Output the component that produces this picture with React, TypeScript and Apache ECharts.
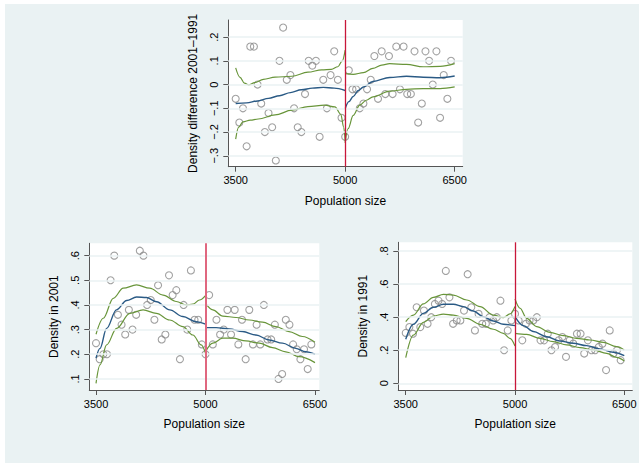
import React, { useEffect, useRef } from "react";
import * as echarts from "echarts";

// Population size (x) for every observation
const pop = [
  3500, 3550, 3600, 3650, 3700, 3750, 3800, 3850, 3900, 3950,
  4000, 4050, 4100, 4150, 4200, 4250, 4300, 4350, 4400, 4450,
  4500, 4550, 4600, 4650, 4700, 4750, 4800, 4850, 4900, 4950,
  5000, 5050, 5100, 5150, 5200, 5250, 5300, 5350, 5400, 5450,
  5500, 5550, 5600, 5650, 5700, 5750, 5800, 5850, 5900, 5950,
  6000, 6050, 6100, 6150, 6200, 6250, 6300, 6350, 6400, 6450,
];

// Density difference 2001–1991
const diffVals = [
  -0.06, -0.16, -0.10, -0.26, 0.16, 0.16, 0.00, -0.08, -0.20, -0.12,
  -0.18, -0.32, 0.10, 0.24, 0.02, 0.04, -0.10, -0.18, -0.20, -0.04,
  0.10, 0.08, 0.10, -0.22, 0.02, -0.10, 0.04, 0.14, 0.02, -0.14,
  -0.22, 0.06, -0.02, -0.02, -0.10, -0.08, -0.02, 0.02, 0.12, -0.06,
  0.14, -0.04, 0.12, -0.04, 0.16, -0.02, 0.16, -0.04, -0.04, 0.14,
  -0.16, -0.08, 0.14, 0.10, 0.00, 0.14, -0.14, 0.04, -0.06, 0.10,
];

// Density in 2001
const d2001 = [
  0.245, 0.18, 0.20, 0.20, 0.50, 0.60, 0.36, 0.32, 0.28, 0.38,
  0.30, 0.36, 0.62, 0.60, 0.40, 0.42, 0.34, 0.48, 0.26, 0.28,
  0.52, 0.44, 0.46, 0.18, 0.40, 0.30, 0.54, 0.34, 0.34, 0.24,
  0.20, 0.44, 0.24, 0.34, 0.28, 0.30, 0.38, 0.28, 0.38, 0.24,
  0.34, 0.18, 0.38, 0.24, 0.32, 0.24, 0.40, 0.26, 0.26, 0.32,
  0.10, 0.12, 0.34, 0.32, 0.24, 0.22, 0.18, 0.22, 0.14, 0.24,
];

// Density in 1991
const d1991 = [
  0.305, 0.34, 0.30, 0.46, 0.34, 0.44, 0.36, 0.40, 0.48, 0.50,
  0.48, 0.68, 0.52, 0.36, 0.38, 0.38, 0.44, 0.66, 0.46, 0.32,
  0.42, 0.36, 0.36, 0.40, 0.38, 0.40, 0.50, 0.20, 0.32, 0.38,
  0.42, 0.38, 0.26, 0.36, 0.38, 0.38, 0.40, 0.26, 0.26, 0.30,
  0.20, 0.22, 0.26, 0.28, 0.16, 0.26, 0.24, 0.30, 0.30, 0.18,
  0.26, 0.20, 0.20, 0.22, 0.24, 0.08, 0.32, 0.18, 0.20, 0.14,
];

// Fitted lines and confidence bands: [population, value]
const diffFitL = [[3500,-0.080],[3650,-0.077],[3800,-0.069],[3950,-0.058],[4100,-0.047],[4250,-0.034],[4400,-0.022],[4550,-0.015],[4700,-0.012],[4850,-0.015],[5000,-0.025]];
const diffUpL = [[3500,0.070],[3560,0.030],[3620,0.006],[3680,-0.002],[3760,0.008],[3880,0.022],[4040,0.031],[4270,0.035],[4490,0.052],[4680,0.062],[4810,0.064],[4900,0.075],[4960,0.100],[5000,0.145]];
const diffLoL = [[3500,-0.230],[3540,-0.180],[3600,-0.157],[3700,-0.150],[3810,-0.145],[4040,-0.128],[4270,-0.108],[4490,-0.093],[4720,-0.087],[4860,-0.094],[4940,-0.125],[4980,-0.180],[5000,-0.240]];
const diffFitR = [[5000,-0.102],[5050,-0.072],[5110,-0.050],[5180,-0.025],[5250,-0.010],[5380,0.013],[5610,0.030],[5840,0.035],[6070,0.031],[6300,0.029],[6500,0.036]];
const diffUpR = [[5000,0.046],[5110,0.043],[5250,0.050],[5380,0.068],[5500,0.082],[5610,0.088],[5840,0.085],[6070,0.075],[6300,0.077],[6500,0.088]];
const diffLoR = [[5000,-0.246],[5040,-0.186],[5110,-0.130],[5200,-0.087],[5290,-0.066],[5380,-0.052],[5610,-0.028],[5840,-0.020],[6070,-0.017],[6300,-0.017],[6500,-0.010]];

const d01FitL = [[3500,0.184],[3555,0.224],[3645,0.305],[3780,0.380],[3920,0.418],[4055,0.432],[4190,0.430],[4330,0.413],[4510,0.380],[4690,0.353],[4870,0.332],[5000,0.322]];
const d01UpL = [[3500,0.281],[3600,0.346],[3736,0.427],[3873,0.468],[4055,0.481],[4236,0.468],[4418,0.440],[4600,0.414],[4736,0.400],[4827,0.403],[4918,0.420],[5000,0.438]];
const d01LoL = [[3500,0.082],[3555,0.157],[3645,0.238],[3782,0.305],[3964,0.366],[4145,0.380],[4327,0.366],[4509,0.339],[4690,0.312],[4827,0.278],[4941,0.238],[5000,0.205]];
const d01FitR = [[5000,0.308],[5145,0.308],[5327,0.303],[5509,0.292],[5691,0.278],[5873,0.258],[6055,0.245],[6236,0.224],[6373,0.210],[6500,0.200]];
const d01UpR = [[5000,0.407],[5100,0.380],[5236,0.355],[5418,0.349],[5600,0.339],[5782,0.330],[5964,0.312],[6145,0.292],[6327,0.272],[6500,0.249]];
const d01LoR = [[5000,0.210],[5100,0.245],[5236,0.265],[5373,0.265],[5554,0.254],[5736,0.245],[5918,0.227],[6100,0.210],[6282,0.190],[6500,0.166]];

const d91FitL = [[3500,0.266],[3605,0.357],[3742,0.423],[3880,0.460],[4017,0.478],[4154,0.478],[4291,0.464],[4428,0.437],[4566,0.403],[4703,0.377],[4840,0.357],[5000,0.349]];
const d91UpL = [[3500,0.373],[3605,0.413],[3742,0.480],[3880,0.520],[4017,0.538],[4154,0.534],[4337,0.504],[4520,0.464],[4703,0.413],[4840,0.397],[4931,0.420],[5000,0.465]];
const d91LoL = [[3500,0.155],[3605,0.292],[3742,0.369],[3880,0.407],[4017,0.419],[4154,0.413],[4337,0.393],[4520,0.357],[4703,0.327],[4840,0.302],[4931,0.272],[5000,0.226]];
const d91FitR = [[5000,0.403],[5114,0.349],[5251,0.313],[5434,0.282],[5617,0.256],[5800,0.242],[5983,0.228],[6166,0.208],[6349,0.188],[6500,0.167]];
const d91UpR = [[5000,0.510],[5069,0.454],[5160,0.393],[5297,0.343],[5480,0.308],[5663,0.288],[5846,0.272],[6029,0.262],[6212,0.248],[6395,0.222],[6500,0.202]];
const d91LoR = [[5000,0.302],[5160,0.296],[5343,0.272],[5526,0.252],[5709,0.232],[5892,0.216],[6075,0.202],[6258,0.181],[6395,0.157],[6500,0.135]];

// Tick values and labels
const xTicks = [3500, 5000, 6500];
const cutoff = 5000;
const diffTicks = [-0.3, -0.2, -0.1, 0, 0.1, 0.2];
const diffLabels = ["\u2212.3", "\u2212.2", "\u2212.1", "0", ".1", ".2"];
const d01Ticks = [0.1, 0.2, 0.3, 0.4, 0.5, 0.6];
const d01Labels = [".1", ".2", ".3", ".4", ".5", ".6"];
const d91Ticks = [0, 0.2, 0.4, 0.6, 0.8];
const d91Labels = ["0", ".2", ".4", ".6", ".8"];

const FONT = "'Liberation Sans', Arial, Helvetica, sans-serif";
const BG = "#eaf2f3";
const NAVY = "#2a5a85";
const GREEN = "#68953a";
const CIRCLE = "#8a8a8a";
const AXIS = "#555555";

export default function App() {
  const ref = useRef<HTMLDivElement>(null);

  useEffect(() => {
    if (!ref.current) return;
    const chart = echarts.init(ref.current, undefined, { renderer: "svg" });

    const panels = [
      {
        grid: { left: 223.3, top: 16, width: 234.4, height: 146.7 },
        xmin: 3399, xmax: 6610, ymin: -0.346, ymax: 0.272,
        yTicks: diffTicks, yLabels: diffLabels, yName: "Density difference 2001\u20131991",
        points: diffVals,
        lines: [diffFitL, diffUpL, diffLoL, diffFitR, diffUpR, diffLoR],
        red: "#c8173a", redW: 1.3,
      },
      {
        grid: { left: 84.3, top: 239.3, width: 230, height: 146.7 },
        xmin: 3408, xmax: 6559, ymin: 0.055, ymax: 0.65,
        yTicks: d01Ticks, yLabels: d01Labels, yName: "Density in 2001",
        points: d2001,
        lines: [d01FitL, d01UpL, d01LoL, d01FitR, d01UpR, d01LoR],
        red: "#e0677f", redW: 2,
      },
      {
        grid: { left: 393.3, top: 238.3, width: 234, height: 147.7 },
        xmin: 3398, xmax: 6610, ymin: -0.0405, ymax: 0.853,
        yTicks: d91Ticks, yLabels: d91Labels, yName: "Density in 1991",
        points: d1991,
        lines: [d91FitL, d91UpL, d91LoL, d91FitR, d91UpR, d91LoR],
        red: "#c8173a", redW: 1.3,
      },
    ];

    const grid: any[] = [];
    const xAxis: any[] = [];
    const yAxis: any[] = [];
    const series: any[] = [];

    panels.forEach((p, i) => {
      grid.push({
        ...p.grid,
        show: true,
        backgroundColor: "#ffffff",
        borderWidth: 0,
        outerBoundsMode: "none",
      });
      xAxis.push({
        type: "value",
        gridIndex: i,
        min: p.xmin,
        max: p.xmax,
        name: "Population size",
        nameLocation: "middle",
        nameGap: 28,
        nameTextStyle: { fontSize: 12, color: "#000", fontFamily: FONT },
        axisLine: { show: true, onZero: false, lineStyle: { color: AXIS, width: 1 } },
        axisTick: { show: true, length: 5, customValues: xTicks, lineStyle: { color: AXIS } },
        axisLabel: {
          customValues: xTicks,
          formatter: (v: number) => String(v),
          fontSize: 11,
          color: "#000",
          fontFamily: FONT,
          margin: 8,
        },
        splitLine: { show: false },
      });
      yAxis.push({
        type: "value",
        gridIndex: i,
        min: p.ymin,
        max: p.ymax,
        name: p.yName,
        nameLocation: "middle",
        nameGap: 29,
        nameTextStyle: { fontSize: 12, color: "#000", fontFamily: FONT },
        axisLine: { show: true, onZero: false, lineStyle: { color: AXIS, width: 1 } },
        axisTick: { show: true, length: 5, customValues: p.yTicks, lineStyle: { color: AXIS } },
        axisLabel: {
          customValues: p.yTicks,
          rotate: 90,
          formatter: (v: number) => {
            const k = p.yTicks.findIndex((t) => Math.abs(t - v) < 1e-6);
            return k >= 0 ? p.yLabels[k] : "";
          },
          fontSize: 11,
          color: "#000",
          fontFamily: FONT,
          margin: 9,
        },
        splitLine: { show: false },
      });

      // horizontal grid lines
      series.push({
        type: "line",
        xAxisIndex: i,
        yAxisIndex: i,
        data: [],
        z: 1,
        silent: true,
        markLine: {
          silent: true,
          symbol: ["none", "none"],
          label: { show: false },
          lineStyle: { color: BG, width: 1.5, type: "solid" },
          data: p.yTicks.map((v) => ({ yAxis: v })),
        },
      });

      // scatter
      series.push({
        type: "scatter",
        xAxisIndex: i,
        yAxisIndex: i,
        symbol: "circle",
        symbolSize: 7,
        itemStyle: { color: "rgba(0,0,0,0)", borderColor: CIRCLE, borderWidth: 1.1 },
        data: pop.map((x, k) => [x, p.points[k]]),
        z: 2,
      });

      // fits and bands
      p.lines.forEach((ln, k) => {
        const isFit = k % 3 === 0;
        series.push({
          type: "line",
          xAxisIndex: i,
          yAxisIndex: i,
          data: ln,
          showSymbol: false,
          smooth: 0.35,
          smoothMonotone: "x",
          lineStyle: { color: isFit ? NAVY : GREEN, width: isFit ? 1.4 : 1.2 },
          z: 3,
          silent: true,
        });
      });

      // cutoff line
      series.push({
        type: "line",
        xAxisIndex: i,
        yAxisIndex: i,
        data: [],
        z: 4,
        silent: true,
        markLine: {
          silent: true,
          symbol: ["none", "none"],
          label: { show: false },
          lineStyle: { color: p.red, width: p.redW, type: "solid" },
          data: [{ xAxis: cutoff }],
        },
      });
    });

    chart.setOption({
      animation: false,
      backgroundColor: BG,
      textStyle: { fontFamily: FONT },
      grid,
      xAxis,
      yAxis,
      series,
    });

    return () => chart.dispose();
  }, []);

  return (
    <div style={{ position: "fixed", left: 0, top: 0, width: 639, height: 463, background: "#ffffff" }}>
      <div ref={ref} style={{ position: "absolute", left: 5, top: 4, width: 634, height: 459 }} />
    </div>
  );
}
